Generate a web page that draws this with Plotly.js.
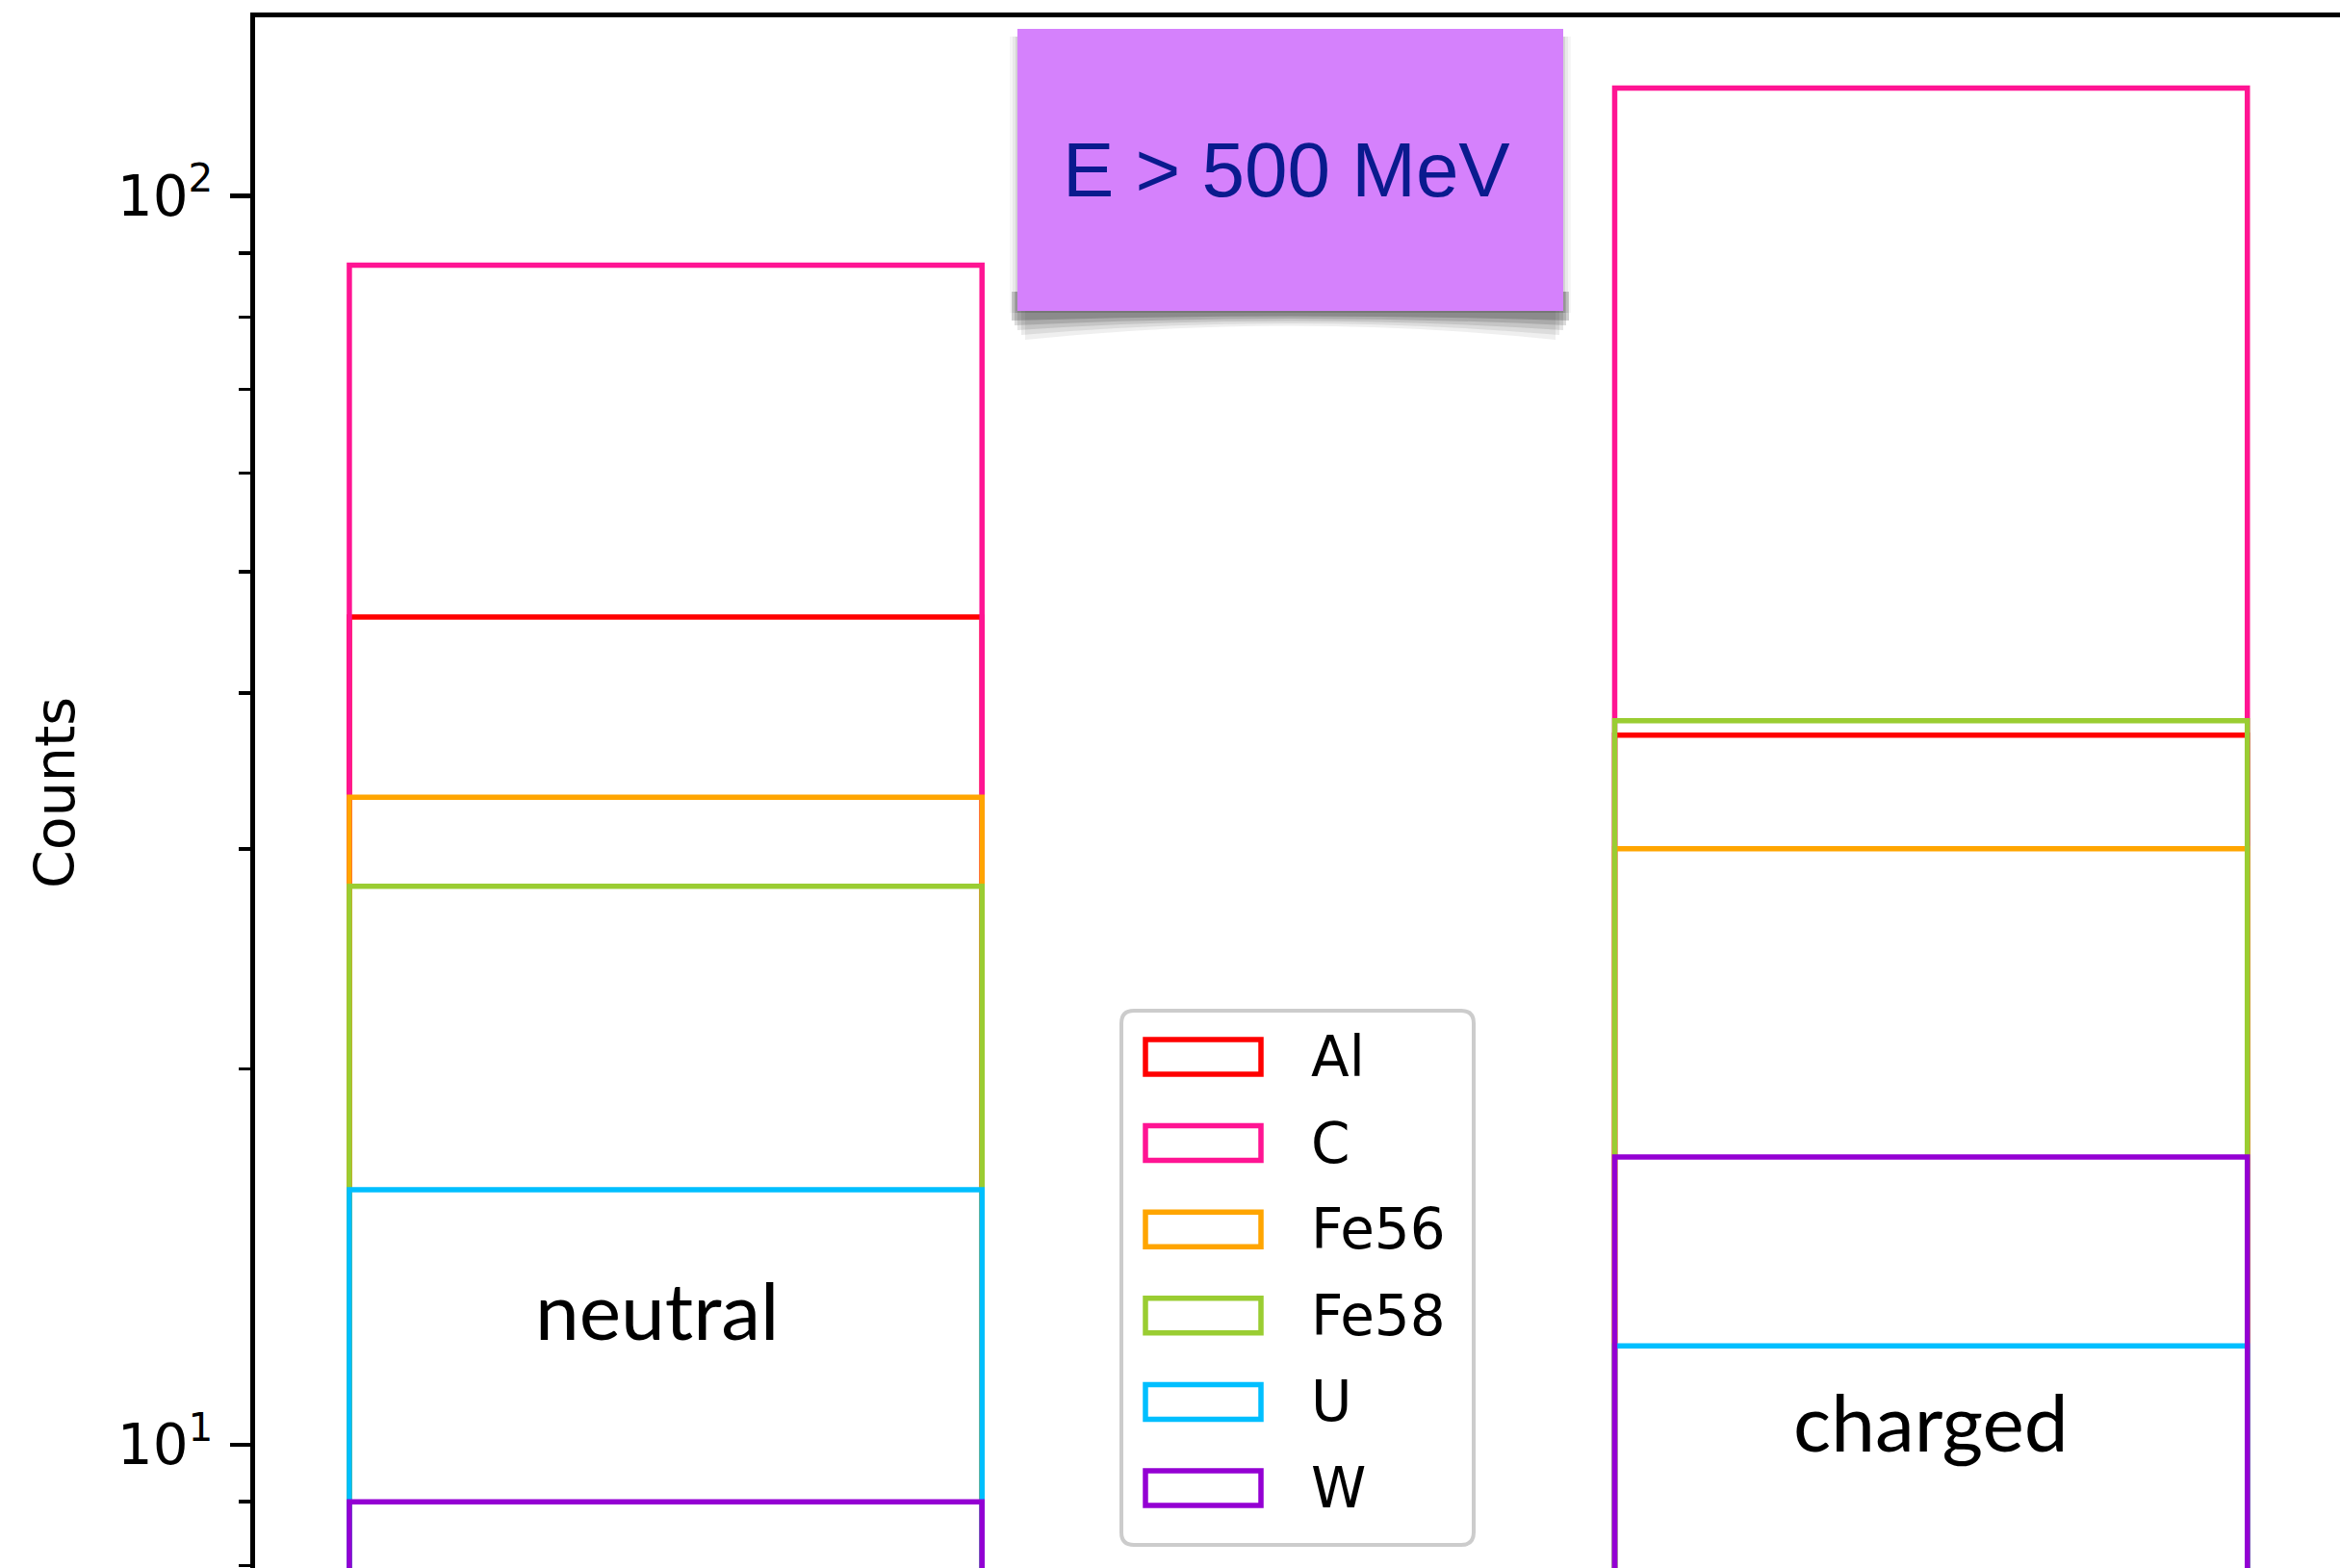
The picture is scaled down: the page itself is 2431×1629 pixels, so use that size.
<!DOCTYPE html>
<html>
<head>
<meta charset="utf-8">
<script src="https://cdn.plot.ly/plotly-3.0.1.min.js"></script>
<style>
  html, body { margin: 0; padding: 0; background: #ffffff; }
  #chart { width: 2431px; height: 1629px; }
</style>
</head>
<body>
<div id="chart"></div>
<script>
// categories on the x axis
const categories = ['neutral', 'charged'];

// counts per target material (neutral, charged)
const alCounts = [46, 37];
const cCounts = [88, 122];
const fe56Counts = [33, 30];
const fe58Counts = [28, 38];
const uCounts = [16, 12];
const wCounts = [9, 17];

const seriesNames = ['Al', 'C', 'Fe56', 'Fe58', 'U', 'W'];
const seriesColors = ['#ff0000', '#ff1493', '#ffa500', '#9acd32', '#00bfff', '#9400d3'];
const seriesValues = [alCounts, cCounts, fe56Counts, fe58Counts, uCounts, wCounts];

// y axis ticks
const majorTickVals = [10, 100];
const majorTickText = ['10<sup>1</sup>', '10<sup>2</sup>'];
const minorTickVals = [8, 9, 20, 30, 40, 50, 60, 70, 80, 90, 200];

const W = 2431, H = 1629;
const M = { l: 265, r: 0, t: 18, b: 0 };
const PW = W - M.l - M.r, PH = H - M.t - M.b;
// pixel -> paper helpers for decorations
const px = x => (x - M.l) / PW;
const py = y => (H - M.b - y) / PH;

const traces = seriesNames.map((name, i) => ({
    type: 'bar',
    name: name,
    x: categories,
    y: seriesValues[i],
    width: 0.5,
    marker: { color: 'rgba(0,0,0,0)', line: { color: seriesColors[i], width: 5.5 } },
    showlegend: false,
    hoverinfo: 'skip',
}));

const shapes = [];
const annotations = [];

// "E > 500 MeV" sticker with a soft curled shadow
const bx0 = 1057, bx1 = 1624, by0 = 30, by1 = 323;
[[16, 30, 0.07], [12, 25, 0.09], [8, 20, 0.12], [5, 15, 0.16], [2, 10, 0.22]].forEach(([inset, drop, op]) => {
    const xa = bx0 + inset - 8, xb = bx1 - inset + 8, xm = (bx0 + bx1) / 2;
    shapes.push({
        type: 'path', xref: 'paper', yref: 'paper', layer: 'above',
        path: `M ${px(xa)},${py(by1 - 20)} L ${px(xa)},${py(by1 + drop)} ` +
              `Q ${px(xm)},${py(by1 + 1)} ${px(xb)},${py(by1 + drop)} ` +
              `L ${px(xb)},${py(by1 - 20)} Z`,
        fillcolor: `rgba(30,30,30,${op})`, line: { width: 0 },
    });
});
[[8, 0.04], [5, 0.06], [2, 0.1]].forEach(([g, op]) => {
    shapes.push({
        type: 'rect', xref: 'paper', yref: 'paper', layer: 'above',
        x0: px(bx0 - g), x1: px(bx1 + g), y0: py(by1 + 2), y1: py(by0 + 8),
        fillcolor: `rgba(30,30,30,${op})`, line: { width: 0 },
    });
});
shapes.push({
    type: 'rect', xref: 'paper', yref: 'paper', layer: 'above',
    x0: px(bx0), x1: px(bx1), y0: py(by1), y1: py(by0),
    fillcolor: '#d581fc', line: { width: 0 },
});
annotations.push({
    xref: 'paper', yref: 'paper', x: px(1336), y: py(177),
    xanchor: 'center', yanchor: 'middle', showarrow: false,
    text: 'E > 500 MeV',
    font: { family: 'Liberation Sans, Arial, sans-serif', size: 80, color: '#0a1a8e' },
});

// category labels inside the bars
annotations.push({
    xref: 'paper', yref: 'paper', x: px(682), y: py(1360),
    xanchor: 'center', yanchor: 'middle', showarrow: false,
    text: 'neutral', font: { family: 'Lato, sans-serif', size: 82, color: '#000000' },
});
annotations.push({
    xref: 'paper', yref: 'paper', x: px(2006), y: py(1476),
    xanchor: 'center', yanchor: 'middle', showarrow: false,
    text: 'charged', font: { family: 'Lato, sans-serif', size: 82, color: '#000000' },
});

// legend drawn by hand (matplotlib style, wide swatches)
const lx0 = 1165, lx1 = 1531, ly0 = 1050, ly1 = 1605, r = 13;
const rx = r / PW, ry = r / PH;
shapes.push({
    type: 'path', xref: 'paper', yref: 'paper', layer: 'above',
    path: `M ${px(lx0) + rx},${py(ly0)} L ${px(lx1) - rx},${py(ly0)} Q ${px(lx1)},${py(ly0)} ${px(lx1)},${py(ly0) - ry} ` +
          `L ${px(lx1)},${py(ly1) + ry} Q ${px(lx1)},${py(ly1)} ${px(lx1) - rx},${py(ly1)} ` +
          `L ${px(lx0) + rx},${py(ly1)} Q ${px(lx0)},${py(ly1)} ${px(lx0)},${py(ly1) + ry} ` +
          `L ${px(lx0)},${py(ly0) - ry} Q ${px(lx0)},${py(ly0)} ${px(lx0) + rx},${py(ly0)} Z`,
    fillcolor: 'rgba(255,255,255,0.8)', line: { color: '#cccccc', width: 4 },
});
seriesNames.forEach((name, i) => {
    const cy = 1098 + i * 89.6;
    shapes.push({
        type: 'rect', xref: 'paper', yref: 'paper', layer: 'above',
        x0: px(1190), x1: px(1310), y0: py(cy + 18), y1: py(cy - 18),
        fillcolor: 'rgba(0,0,0,0)', line: { color: seriesColors[i], width: 5.5 },
    });
    annotations.push({
        xref: 'paper', yref: 'paper', x: px(1360), y: py(cy),
        xanchor: 'left', yanchor: 'middle', showarrow: false,
        text: name, font: { family: 'DejaVu Sans, sans-serif', size: 58, color: '#000000' },
    });
});

const layout = {
    width: W,
    height: H,
    margin: M,
    paper_bgcolor: '#ffffff',
    plot_bgcolor: '#ffffff',
    barmode: 'overlay',
    showlegend: false,
    hovermode: false,
    font: { family: 'DejaVu Sans, sans-serif', color: '#000000' },
    xaxis: {
        type: 'category',
        range: [-0.3245, 1.3232],
        side: 'top',
        showline: true,
        linecolor: '#000000',
        linewidth: 5,
        showticklabels: false,
        ticks: '',
        showgrid: false,
        zeroline: false,
    },
    yaxis: {
        type: 'log',
        range: [0.90123, 2.1430],
        showline: true,
        linecolor: '#000000',
        linewidth: 5,
        showgrid: false,
        zeroline: false,
        tickmode: 'array',
        tickvals: majorTickVals,
        ticktext: majorTickText,
        ticks: 'outside',
        ticklen: 21,
        tickwidth: 4.5,
        tickcolor: '#000000',
        ticklabelstandoff: 6,
        tickfont: { family: 'DejaVu Sans, sans-serif', size: 58, color: '#000000' },
        minor: {
            tickmode: 'array',
            tickvals: minorTickVals,
            ticks: 'outside',
            ticklen: 12,
            tickwidth: 3.5,
            tickcolor: '#000000',
            showgrid: false,
        },
        title: {
            text: 'Counts',
            standoff: 27,
            font: { family: 'DejaVu Sans, sans-serif', size: 57, color: '#000000' },
        },
    },
    shapes: shapes,
    annotations: annotations,
};

Plotly.newPlot('chart', traces, layout, { staticPlot: true, displayModeBar: false });
</script>
</body>
</html>
